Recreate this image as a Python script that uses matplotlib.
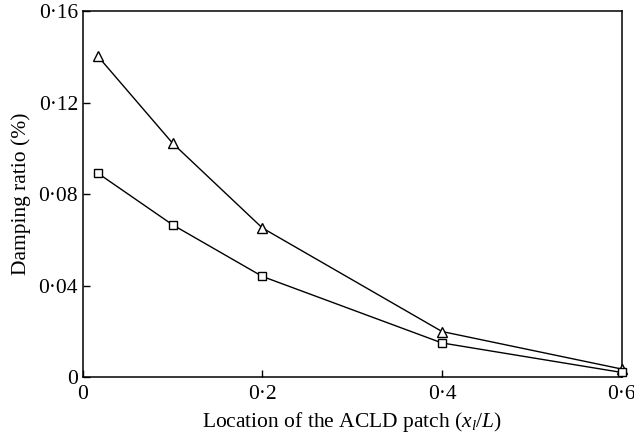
import matplotlib
matplotlib.use("Agg")
import matplotlib.pyplot as plt

# Data
location = [0.0167, 0.1, 0.2, 0.4, 0.6]
damping_triangle = [0.1404, 0.1023, 0.0652, 0.0199, 0.0035]
damping_square = [0.0892, 0.0666, 0.0440, 0.0149, 0.0020]

x_ticks = [0, 0.2, 0.4, 0.6]
x_tick_labels = ["0", "0\u00b72", "0\u00b74", "0\u00b76"]
y_ticks = [0, 0.04, 0.08, 0.12, 0.16]
y_tick_labels = ["0", "0\u00b704", "0\u00b708", "0\u00b712", "0\u00b716"]

plt.rcParams["font.family"] = ["Liberation Serif", "DejaVu Serif"]
plt.rcParams["mathtext.fontset"] = "custom"
plt.rcParams["mathtext.rm"] = "Liberation Serif"
plt.rcParams["mathtext.it"] = "Liberation Serif:italic"

fig = plt.figure(figsize=(6.34, 4.34), dpi=100)
ax = fig.add_axes([0.1305, 0.1313, 0.85, 0.8427])

ax.plot(location, damping_triangle, color="black", lw=1.0, clip_on=False,
        marker="^", ms=6.5, mfc="white", mec="black", mew=1.0, zorder=3)
ax.plot(location, damping_square, color="black", lw=1.0, clip_on=False,
        marker="s", ms=6, mfc="white", mec="black", mew=1.0, zorder=3)

ax.set_xlim(0, 0.6)
ax.set_ylim(0, 0.16)
ax.set_xticks(x_ticks)
ax.set_xticklabels(x_tick_labels)
ax.set_yticks(y_ticks)
ax.set_yticklabels(y_tick_labels)
ax.tick_params(direction="in", length=5, width=1.0, labelsize=15.5,
               top=False, right=False)
ax.tick_params(axis="x", pad=6)

for s in ax.spines.values():
    s.set_linewidth(1.1)

ax.set_xlabel("Location of the ACLD patch ($x_l/L$)", fontsize=15.5, labelpad=4)
ax.set_ylabel("Damping ratio (%)", fontsize=15.5, labelpad=5)

fig.savefig("out.png", dpi=100)
plt.close(fig)
